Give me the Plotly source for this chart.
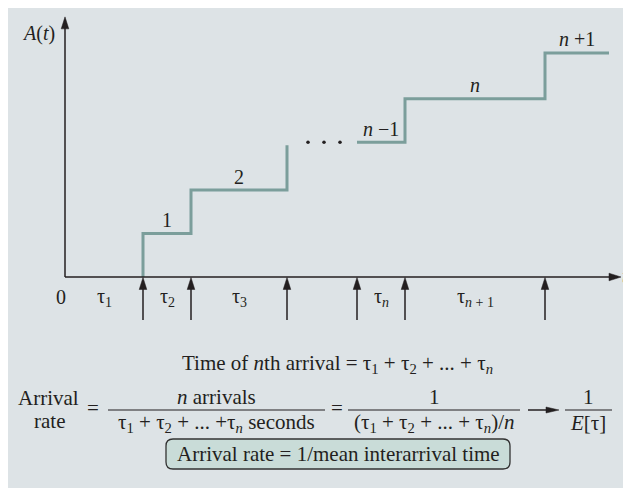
import plotly.graph_objects as go

# arrival instants on the t axis and the count A(t) reached at each one
arrivals_first = [7.8, 12.6, 22.2]      # arrivals 1, 2, 3
counts_first = [1, 2, 3.03]
arrivals_last = [29.2, 34.0, 48.0]      # arrivals n-1, n, n+1
counts_last = [3.1, 4.1, 5.15]
t_end = 54.4                            # where the last step stops
t_axis_end = 55.6
A_axis_end = 5.98
ellipsis_t = [24.3, 25.9, 27.5]
ellipsis_A = 3.1

step_labels = ["1", "2", "<i>n</i> −1", "<i>n</i>", "<i>n</i> +1"]
tau_labels = ["τ<sub>1</sub>", "τ<sub>2</sub>", "τ<sub>3</sub>",
              "τ<sub><i>n</i></sub>", "τ<sub><i>n</i> + 1</sub>"]

W, H = 631, 488
OFF = 8                   # page margin around the plot div
X0, Y0 = 65, 277          # pixel position of the origin
XS, YS = 10, 43.5         # pixels per unit of t and of A
INK = "#231f20"
STEP = "#7b9e9b"
FONT = "Liberation Serif"


def px(t):
    return X0 + t * XS


def py(a):
    return Y0 - a * YS


def head(xp, yp, d, L=12, w=3.8):
    if d == "up":
        return [xp, xp - w, xp + w, xp, None], [yp, yp + L, yp + L, yp, None]
    return [xp, xp - L, xp - L, xp, None], [yp, yp - w, yp + w, yp, None]


fig = go.Figure()

# the staircase A(t)
fig.add_trace(go.Scatter(
    x=[arrivals_first[0]] + arrivals_first, y=[0] + counts_first,
    mode="lines", line=dict(color=STEP, width=3, shape="hv")))
fig.add_trace(go.Scatter(
    x=arrivals_last + [t_end], y=counts_last + [counts_last[-1]],
    mode="lines", line=dict(color=STEP, width=3, shape="hv")))
fig.add_trace(go.Scatter(
    x=ellipsis_t, y=[ellipsis_A] * 3, mode="markers",
    marker=dict(color=INK, size=3.5)))

# axes and arrival arrows, drawn in pixel space
lx, ly, hx, hy = [], [], [], []
lx += [px(0), px(0), None]
ly += [py(0), py(A_axis_end) + 11, None]
a, b = head(px(0), py(A_axis_end), "up")
hx += a; hy += b
lx += [px(0), px(t_axis_end) - 11, None]
ly += [py(0), py(0), None]
a, b = head(px(t_axis_end), py(0), "right")
hx += a; hy += b
for t in arrivals_first + arrivals_last:
    lx += [px(t), px(t), None]
    ly += [320, py(0) + 10, None]
    a, b = head(px(t), py(0) + 0.5, "up")
    hx += a; hy += b
# arrow inside the formula
lx += [528, 550, None]
ly += [410, 410, None]
a, b = head(559, 410, "right", L=13, w=3)
hx += a; hy += b

fig.add_trace(go.Scatter(x=lx, y=ly, mode="lines", xaxis="x2", yaxis="y2",
                         line=dict(color=INK, width=1.5)))
fig.add_trace(go.Scatter(x=hx, y=hy, mode="lines", xaxis="x2", yaxis="y2",
                         fill="toself", fillcolor=INK,
                         line=dict(color=INK, width=0.5)))

ann = []


def txt(x, y, s, ref="data", size=20, **kw):
    d = dict(x=x, y=y, text=s, showarrow=False,
             font=dict(family=FONT, size=size, color=INK), **kw)
    if ref == "px":
        d.update(xref="x2", yref="y2")
    ann.append(d)


# labels on the staircase
step_x = [(arrivals_first[0] + arrivals_first[1]) / 2,
          (arrivals_first[1] + arrivals_first[2]) / 2,
          (arrivals_last[0] + arrivals_last[1]) / 2,
          (arrivals_last[1] + arrivals_last[2]) / 2,
          (arrivals_last[2] + t_end) / 2]
step_y = [counts_first[0], counts_first[1]] + counts_last
for x, y, s in zip(step_x, step_y, step_labels):
    txt(x, y + 0.31, s)

tau_bounds = [(0, arrivals_first[0]), (arrivals_first[0], arrivals_first[1]),
              (arrivals_first[1], arrivals_first[2]),
              (arrivals_last[0], arrivals_last[1]),
              (arrivals_last[1], arrivals_last[2])]
for (a0, a1), s in zip(tau_bounds, tau_labels):
    txt((a0 + a1) / 2, -0.46, s)

txt(61, 297, "0", ref="px")
txt(38, 33, "<i>A</i>(<i>t</i>)", ref="px")
txt(625, 276, "<i>t</i>", ref="px")

# formulas
F = 21
txt(337, 364, "Time of <i>n</i>th arrival = τ<sub>1</sub> + τ<sub>2</sub> + ... + τ<sub><i>n</i></sub>", ref="px", size=F)
txt(48, 398, "Arrival", ref="px", size=F)
txt(49, 421, "rate", ref="px", size=F)
txt(93, 408, "=", ref="px", size=F)
txt(216, 397, "<i>n</i> arrivals", ref="px", size=F)
txt(216, 423, "τ<sub>1</sub> + τ<sub>2</sub> + ... +τ<sub><i>n</i></sub> seconds", ref="px", size=F)
txt(337, 408, "=", ref="px", size=F)
txt(434, 397, "1", ref="px", size=F)
txt(434, 423, "(τ<sub>1</sub> + τ<sub>2</sub> + ... + τ<sub><i>n</i></sub>)/<i>n</i>", ref="px", size=F)
txt(588, 397, "1", ref="px", size=F)
txt(588, 423, "<i>E</i>[τ]", ref="px", size=F)
txt(338, 454, "Arrival rate = 1/mean interarrival time", ref="px", size=F)

shapes = [dict(type="rect", xref="paper", yref="paper", x0=0, x1=1,
               y0=0, y1=1, fillcolor="#dde3e6",
               line=dict(width=0), layer="below")]
for x0, x1 in [(108, 325), (348, 520), (565, 612)]:
    shapes.append(dict(type="line", xref="x2", yref="y2", x0=x0, x1=x1,
                       y0=410, y1=410, line=dict(color=INK, width=1.2)))
bx0, bx1, by0, by1, r = 166, 510, 439, 469, 7
path = (f"M{bx0 + r},{by0} L{bx1 - r},{by0} Q{bx1},{by0} {bx1},{by0 + r} "
        f"L{bx1},{by1 - r} Q{bx1},{by1} {bx1 - r},{by1} L{bx0 + r},{by1} "
        f"Q{bx0},{by1} {bx0},{by1 - r} L{bx0},{by0 + r} Q{bx0},{by0} {bx0 + r},{by0} Z")
shapes.append(dict(type="path", xref="x2", yref="y2", path=path,
                   fillcolor="#c9dcd8", line=dict(color="#333333", width=1.3)))

fig.update_layout(
    width=W - OFF, height=H - OFF, margin=dict(l=0, r=0, t=0, b=0),
    paper_bgcolor="white", plot_bgcolor="rgba(0,0,0,0)",
    showlegend=False, hovermode=False,
    xaxis=dict(range=[(OFF - X0) / XS, (W - X0) / XS], visible=False, fixedrange=True),
    yaxis=dict(range=[-(H - Y0) / YS, (Y0 - OFF) / YS], visible=False, fixedrange=True),
    xaxis2=dict(overlaying="x", range=[OFF, W], visible=False, fixedrange=True),
    yaxis2=dict(overlaying="y", range=[H, OFF], visible=False, fixedrange=True),
    annotations=ann, shapes=shapes,
)

fig.write_html("out.html")
